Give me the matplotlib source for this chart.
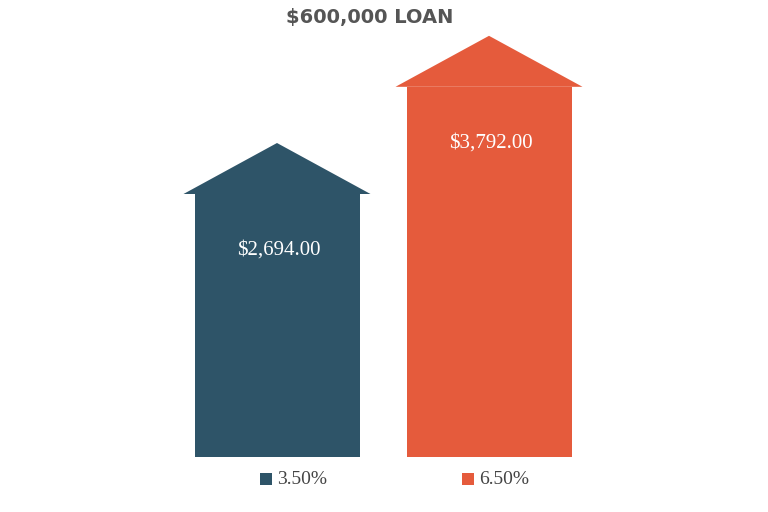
import matplotlib
matplotlib.use("Agg")
import matplotlib.pyplot as plt
from matplotlib.patches import Polygon, Rectangle

# ── Data ──────────────────────────────────────────────────────────────────────
rates = ["3.50%", "6.50%"]
payments = [2694.00, 3792.00]
colors = ["#2E5468", "#E55B3C"]
title = "$600,000 LOAN"

# ── Layout (pixel-ish data units, figure is 768x512) ──────────────────────────
PX = 2694.0 / 263          # data units per pixel vertically
first_center, spacing = 277, 212
body_w, wing_w, roof_h = 165, 187, 51 * PX

fig = plt.figure(figsize=(7.68, 5.12), dpi=100)
ax = fig.add_axes([0, 0, 1, 1])
ax.set_xlim(0, 768)
ax.set_ylim(-55 * PX, 457 * PX)
ax.axis("off")

for i, (rate, val, col) in enumerate(zip(rates, payments, colors)):
    cx = first_center + spacing * i
    ax.add_patch(Rectangle((cx - body_w / 2, 0), body_w, val, color=col, lw=0))
    ax.add_patch(Polygon([(cx - wing_w / 2, val), (cx + wing_w / 2, val),
                          (cx, val + roof_h)], closed=True, color=col, lw=0))
    ax.text(cx + 2, val - 56 * PX, f"${val:,.2f}", color="white",
            family="Liberation Serif", fontsize=15, ha="center", va="center")
    # legend entry
    lx = cx - 11 + (0 if i == 0 else -10)
    ax.add_patch(Rectangle((lx - 6, -28 * PX), 12, 12 * PX, color=col, lw=0))
    ax.text(lx + 11, -22 * PX, rate, color="#444444", family="Liberation Serif",
            fontsize=14, ha="left", va="center")

ax.text(370, 439 * PX, title, color="#555555", fontsize=14, fontweight="bold",
        family="DejaVu Sans", ha="center", va="center")

fig.savefig("out.png", dpi=100, facecolor="white")
